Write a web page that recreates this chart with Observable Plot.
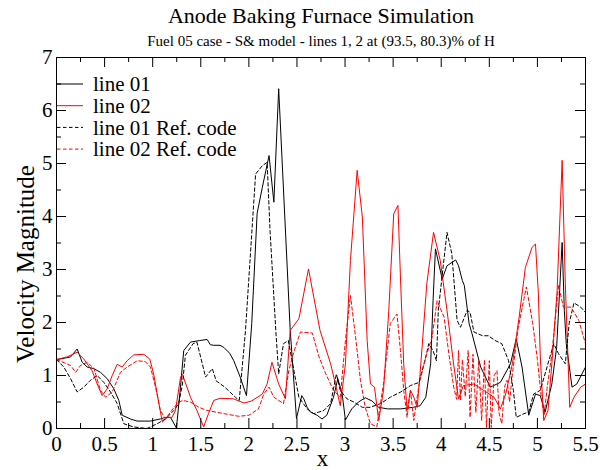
<!DOCTYPE html>
<html>
<head>
<meta charset="utf-8">
<script src="https://cdn.jsdelivr.net/npm/d3@7"></script>
<script src="https://cdn.jsdelivr.net/npm/@observablehq/plot@0.6"></script>
<style>
  html, body { margin: 0; padding: 0; background: #fff; }
</style>
</head>
<body>
<div id="chart"></div>
<script>
// ---------- data ----------
const chartTitle = "Anode Baking Furnace Simulation";
const chartSubtitle = "Fuel 05 case - S& model - lines 1, 2 at (93.5, 80.3)% of H";
const xLabel = "x";
const yLabel = "Velocity Magnitude";
const seriesNames = ["line 01", "line 02", "line 01 Ref. code", "line 02 Ref. code"];

const xMajorTicks = [0, 0.5, 1, 1.5, 2, 2.5, 3, 3.5, 4, 4.5, 5, 5.5];
const xMinorTicks = [0.25, 0.75, 1.25, 1.75, 2.25, 2.75, 3.25, 3.75, 4.25, 4.75, 5.25];
const yMajorTicks = [0, 1, 2, 3, 4, 5, 6, 7];
const yMinorTicks = [0.5, 1.5, 2.5, 3.5, 4.5, 5.5, 6.5];

const line01X = [0,0.146,0.215,0.267,0.319,0.388,0.457,0.527,0.596,0.648,0.683,0.769,0.838,0.977,1.08,1.133,1.185,1.247,1.289,1.323,1.393,1.49,1.566,1.60,1.636,1.70,1.74,1.80,1.843,1.91,1.975,2.03,2.086,2.14,2.21,2.26,2.31,2.43,2.495,2.55,2.571,2.606,2.64,2.71,2.76,2.81,2.88,2.925,2.97,3.004,3.07,3.14,3.21,3.28,3.35,3.44,3.58,3.71,3.78,3.84,3.89,3.915,3.94,4.01,4.06,4.15,4.18,4.22,4.24,4.29,4.32,4.41,4.51,4.615,4.72,4.78,4.84,4.91,4.98,5.03,5.08,5.15,5.20,5.257,5.28,5.30,5.36,5.41,5.5];
const line01Y = [1.30,1.35,1.50,1.25,1.16,1.13,1.06,0.94,0.75,0.53,0.25,0.18,0.14,0.14,0.18,0.21,0.21,0.01,0.78,1.47,1.63,1.66,1.68,1.58,1.57,1.57,1.53,1.42,1.28,0.97,0.62,1.98,4.06,4.55,5.15,4.27,6.41,1.85,0.19,0.62,0.56,0.40,0.31,0.25,0.18,0.25,0.59,0.94,0.65,0.16,0.37,0.50,0.58,0.52,0.40,0.37,0.37,0.40,0.43,0.59,1.22,2.41,3.39,2.82,3.07,3.18,3.07,2.79,2.70,1.98,1.79,1.16,0.78,0.87,1.22,1.69,1.16,0.25,0.65,0.62,0.31,0.84,1.53,3.51,2.23,1.60,0.78,0.84,1.16];

const line02X = [0,0.11,0.215,0.284,0.37,0.423,0.475,0.527,0.579,0.631,0.683,0.735,0.804,0.908,0.97,1.01,1.047,1.10,1.15,1.20,1.237,1.29,1.31,1.393,1.46,1.53,1.58,1.635,1.70,1.84,1.95,2.03,2.14,2.19,2.24,2.31,2.38,2.43,2.52,2.62,2.74,2.85,2.90,2.95,3.004,3.056,3.126,3.18,3.23,3.264,3.306,3.35,3.40,3.455,3.506,3.55,3.576,3.61,3.645,3.68,3.715,3.75,3.78,3.85,3.92,3.99,4.06,4.13,4.18,4.23,4.34,4.44,4.55,4.615,4.67,4.74,4.81,4.875,4.945,4.98,5.01,5.03,5.066,5.11,5.15,5.205,5.257,5.29,5.336,5.38,5.45,5.5];
const line02Y = [1.30,1.35,1.44,1.31,1.09,0.84,0.62,0.75,1.00,1.21,1.16,1.28,1.39,1.40,1.31,1.03,0.65,0.12,0.21,0.21,0.34,0.97,1.02,0.59,0.34,0.03,0.28,0.53,0.57,0.56,0.48,0.52,0.65,0.84,1.25,0.84,0.56,1.85,2.07,3.01,1.85,1.22,0.84,0.43,1.22,3.17,4.87,3.99,1.66,0.84,0.78,0.15,0.72,2.23,4.05,4.21,2.86,1.22,0.34,0.72,0.59,0.40,1.03,2.73,3.70,3.17,2.23,1.20,0.56,0.81,0.84,0.72,0.59,0.37,0.65,1.22,2.10,3.04,3.42,3.48,2.54,1.35,0.15,0.34,1.22,2.60,5.06,2.73,0.40,0.59,0.78,0.84];

const line01RefX = [0,0.076,0.146,0.215,0.284,0.353,0.423,0.492,0.561,0.631,0.70,0.80,0.94,1.047,1.133,1.22,1.27,1.31,1.34,1.42,1.46,1.55,1.62,1.66,1.75,1.86,1.90,1.965,2.07,2.14,2.19,2.22,2.28,2.31,2.36,2.41,2.52,2.606,2.675,2.78,2.85,2.91,2.95,3.02,3.09,3.18,3.26,3.37,3.47,3.58,3.68,3.77,3.84,3.87,3.915,3.95,3.97,4.01,4.06,4.11,4.165,4.20,4.27,4.30,4.34,4.43,4.49,4.56,4.63,4.70,4.75,4.78,4.86,4.91,4.96,5.03,5.10,5.17,5.22,5.29,5.33,5.38,5.45,5.5];
const line01RefY = [1.30,1.16,0.94,0.69,0.78,0.91,1.00,0.87,0.69,0.47,0.09,0.03,0.00,0.09,0.18,0.34,0.47,0.84,1.38,1.60,1.63,0.97,1.13,0.90,0.78,0.59,0.53,1.85,4.80,4.96,5.02,3.74,1.85,1.03,1.60,1.66,0.59,0.37,0.28,0.34,0.47,1.03,0.72,0.56,0.50,0.40,0.40,0.47,0.59,0.69,0.81,0.87,1.35,1.60,1.47,1.28,2.23,2.89,3.70,3.30,2.04,1.91,2.23,2.19,1.82,1.75,1.75,1.66,1.60,1.28,0.72,0.21,0.28,0.31,0.65,0.72,1.16,1.60,1.41,1.22,1.98,2.37,2.29,2.19];

const line02RefX = [0,0.146,0.20,0.25,0.32,0.39,0.457,0.51,0.579,0.665,0.735,0.84,0.925,0.977,1.03,1.08,1.133,1.185,1.255,1.31,1.393,1.48,1.566,1.74,1.895,2.00,2.10,2.155,2.21,2.26,2.36,2.415,2.467,2.536,2.66,2.73,2.80,2.88,2.95,3.004,3.056,3.11,3.16,3.21,3.264,3.33,3.40,3.47,3.54,3.576,3.61,3.645,3.68,3.715,3.77,3.84,3.905,3.957,4.03,4.08,4.13,4.16,4.18,4.20,4.22,4.25,4.28,4.30,4.33,4.36,4.39,4.42,4.45,4.47,4.50,4.52,4.55,4.58,4.60,4.63,4.66,4.685,4.71,4.74,4.80,4.885,4.95,5.00,5.04,5.07,5.10,5.15,5.22,5.27,5.35,5.43,5.5];
const line02RefY = [1.30,1.19,1.06,1.19,1.25,1.13,0.72,0.59,0.69,1.06,1.16,1.28,1.26,1.16,0.78,0.34,0.18,0.31,0.47,0.53,0.50,0.40,0.34,0.28,0.23,0.25,0.37,0.65,0.78,0.59,0.47,1.09,1.44,1.82,1.80,1.35,1.03,0.72,0.59,1.66,2.51,1.72,0.91,0.40,0.09,0.03,0.84,1.98,2.16,1.47,0.72,0.21,0.72,0.15,0.84,1.35,1.72,2.41,2.10,1.40,0.78,0.55,1.47,0.53,1.30,0.60,1.47,0.21,1.40,0.30,1.28,0.15,1.30,0.02,1.28,0.02,1.00,1.09,0.30,0.09,0.80,0.91,0.50,1.03,1.90,2.67,2.00,1.30,0.60,0.25,0.75,1.40,2.70,2.29,2.29,2.04,1.60];

// ---------- build table ----------
const seriesXs = [line01X, line02X, line01RefX, line02RefX];
const seriesYs = [line01Y, line02Y, line01RefY, line02RefY];
const rows = [];
seriesNames.forEach((name, i) => {
  seriesXs[i].forEach((x, j) => rows.push({series: name, x, y: seriesYs[i][j]}));
});

// ---------- styles ----------
const colorOf = {"line 01": "#000000", "line 02": "#ff0000", "line 01 Ref. code": "#000000", "line 02 Ref. code": "#ff0000"};
const dashOf = {"line 01": null, "line 02": null, "line 01 Ref. code": "3.5,2.5", "line 02 Ref. code": "3.5,2.5"};
const FONT = "'Liberation Serif', 'Times New Roman', Times, serif";

const W = 611, H = 470, mL = 56, mR = 26, mT = 57, mB = 42;
const fw = W - mL - mR, fh = H - mT - mB;
const majorLen = 10, minorLen = 5;

const lineMarks = seriesNames.map(name => Plot.line(rows.filter(d => d.series === name), {
  x: "x", y: "y", stroke: colorOf[name], strokeWidth: 1,
  strokeDasharray: dashOf[name] || undefined
}));

const plot = Plot.plot({
  width: W, height: H,
  marginLeft: mL, marginRight: mR, marginTop: mT, marginBottom: mB,
  style: {fontFamily: FONT, background: "#fff", color: "#000", overflow: "visible"},
  x: {domain: [0, 5.5]},
  y: {domain: [0, 7]},
  marks: [
    ...lineMarks,
    // inward ticks on all four sides
    Plot.tickX(xMajorTicks, {x: d => d, insetTop: fh - majorLen, stroke: "#000"}),
    Plot.tickX(xMajorTicks, {x: d => d, insetBottom: fh - majorLen, stroke: "#000"}),
    Plot.tickX(xMinorTicks, {x: d => d, insetTop: fh - minorLen, stroke: "#000"}),
    Plot.tickX(xMinorTicks, {x: d => d, insetBottom: fh - minorLen, stroke: "#000"}),
    Plot.tickY(yMajorTicks, {y: d => d, insetRight: fw - majorLen, stroke: "#000"}),
    Plot.tickY(yMajorTicks, {y: d => d, insetLeft: fw - majorLen, stroke: "#000"}),
    Plot.tickY(yMinorTicks, {y: d => d, insetRight: fw - minorLen, stroke: "#000"}),
    Plot.tickY(yMinorTicks, {y: d => d, insetLeft: fw - minorLen, stroke: "#000"}),
    Plot.frame({stroke: "#000", strokeWidth: 1}),
    Plot.axisX({ticks: xMajorTicks, tickSize: 0, tickPadding: 8, fontSize: 21, label: null, tickFormat: d => String(d)}),
    Plot.axisY({ticks: yMajorTicks, tickSize: 0, tickPadding: 4, fontSize: 21, label: null, tickFormat: d => String(d)}),
    Plot.text([chartTitle], {text: d => d, frameAnchor: "top", dy: -35, lineAnchor: "bottom", fontSize: 22, fill: "#000"}),
    Plot.text([chartSubtitle], {text: d => d, frameAnchor: "top", dy: -12, lineAnchor: "bottom", fontSize: 15, fill: "#000"}),
    Plot.text([xLabel], {text: d => d, frameAnchor: "bottom", dx: 1.5, dy: 37, lineAnchor: "bottom", fontSize: 23, fill: "#000"}),
    Plot.text([yLabel], {text: d => d, frameAnchor: "left", dx: -31, dy: 21, rotate: -90, lineAnchor: "middle", textAnchor: "middle", fontSize: 25, fill: "#000"})
  ]
});

// ---------- legend inside the plot frame ----------
const svg = d3.select(plot);
const lg = svg.append("g")
  .attr("font-family", FONT).attr("font-size", 21)
  .attr("fill", "#000").attr("text-anchor", "start");
seriesNames.forEach((name, i) => {
  const yy = mT + 27 + i * 21.7;
  lg.append("line")
    .attr("x1", mL + 1).attr("x2", mL + 27)
    .attr("y1", yy).attr("y2", yy)
    .attr("stroke", colorOf[name]).attr("stroke-width", 1)
    .attr("stroke-dasharray", dashOf[name]);
  lg.append("text")
    .attr("x", mL + 37).attr("y", yy).attr("dy", "0.35em")
    .attr("text-anchor", "start")
    .text(name);
});

document.getElementById("chart").appendChild(plot);
</script>
</body>
</html>
